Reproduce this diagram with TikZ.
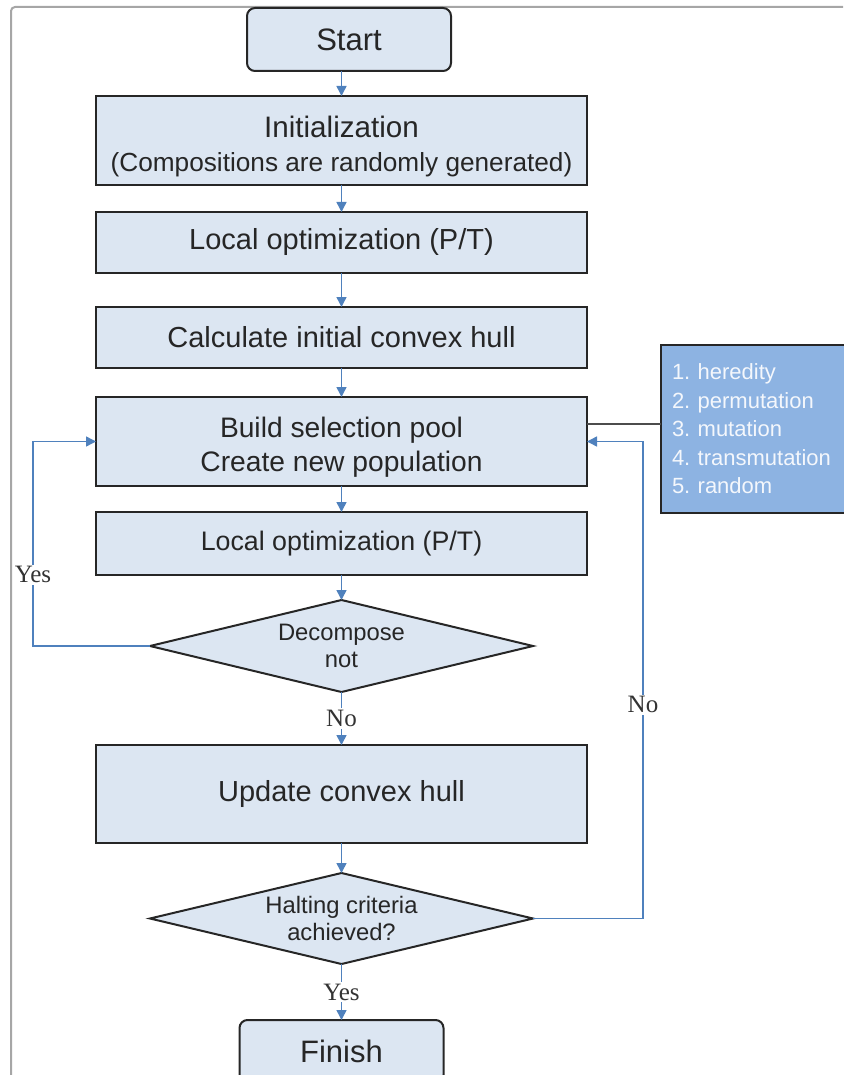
\documentclass[tikz,border=0pt]{standalone}
\usepackage{fontspec}
\setmainfont{Liberation Sans}
\newfontfamily\answerfont{Liberation Serif}
\usetikzlibrary{arrows.meta, positioning, shapes.geometric}
\definecolor{boxfill}{HTML}{DCE6F2}
\definecolor{flowblue}{HTML}{4F81BD}
\definecolor{opsfill}{HTML}{8DB3E2}
\definecolor{framegray}{HTML}{A6A6A6}
\tikzstyle{block} = [draw=black!85, line width=1pt, fill=boxfill, text=black!85, align=center, inner sep=2pt, outer sep=0pt]
\tikzstyle{process} = [block, rectangle, minimum width=245.5pt, font=\fontsize{14.5}{17}\selectfont]
\tikzstyle{terminal} = [block, rectangle, rounded corners=4pt, minimum width=102pt, minimum height=31.5pt, font=\fontsize{15.5}{18}\selectfont]
\tikzstyle{decision} = [block, diamond, aspect=4.16, inner sep=0pt, minimum width=191.5pt, minimum height=46pt, font=\fontsize{11.9}{13.5}\selectfont]
\tikzstyle{operators} = [draw=black!85, line width=1pt, fill=opsfill, text=white!90!opsfill, outer sep=0pt, text width=92pt, align=left, inner xsep=5.5pt, minimum height=84pt, font=\fontsize{11}{14.25}\selectfont\frenchspacing]
\tikzstyle{flow} = [-{Triangle[length=5pt, width=5pt]}, draw=flowblue, line width=0.75pt]
\tikzstyle{answer} = [fill=white, inner sep=1pt, text=black!80, font=\answerfont\fontsize{12.5}{14}\selectfont]
\tikzstyle{link} = [draw=black!70, line width=0.75pt]
\tikzstyle{frame} = [draw=framegray, line width=1pt, rounded corners=2pt]
\newcommand*{\topgap}[1]{\rule{0pt}{#1}}

\begin{document}
\begin{tikzpicture}[node distance=7mm]
    \useasboundingbox (0,0) rectangle (421.5pt,-537.5pt);
    \draw [frame] (421.5pt,-3.5pt) -| (5.5pt,-545pt);

    % Main column.
    \node (init) [process, minimum height=44.5pt, font=\fontsize{13.1}{17}\selectfont] at (170.75pt,-70.25pt)
        {\topgap{16.8pt}{\fontsize{14.8}{17}\selectfont Initialization}\\(Compositions are randomly generated)};
    \node (start) [terminal, above=12.5pt of init, xshift=3.75pt] {Start};
    \node (opt1) [process, minimum height=30.5pt, below=13.5pt of init] {Local optimization (P/T)};
    \node (hull1) [process, minimum height=30.5pt, below=17pt of opt1] {Calculate initial convex hull};
    \node (pool) [process, minimum height=44.5pt, below=14.5pt of hull1, font=\fontsize{14.1}{17}\selectfont]
        {\topgap{16.1pt}Build selection pool\\Create new population};
    \node (opt2) [process, minimum height=31.5pt, below=13pt of pool, font=\fontsize{13.4}{16}\selectfont] {Local optimization (P/T)};
    \node (dec) [decision, below=12.5pt of opt2] {Decompose\\not};
    \node (update) [process, minimum height=49pt, below=26.5pt of dec] {Update convex hull};
    \node (halt) [decision, minimum height=45.5pt, below=15pt of update] {Halting criteria\\achieved?};
    \node (finish) [terminal, below=28pt of halt] {Finish};

    % Variation operators.
    \node (ops) [operators, right=37pt of pool, yshift=6.25pt]
        {1. heredity\\2. permutation\\3. mutation\\4. transmutation\\5. random};
    \coordinate (tap) at ([yshift=2.5pt]ops.west);
    \draw [link] (tap) -- (tap -| pool.east);

    % Arrows.
    \draw [flow] (start.south -| init.north) -- (init.north);
    \foreach\i/\j in {init/opt1, opt1/hull1, hull1/pool, pool/opt2, opt2/dec, update/halt} {
        \draw [flow] (\i) -- (\j);
    }
    \draw [flow] (dec) -- node [answer] {No} (update);
    \draw [flow] (halt) -- node [answer] {Yes} (finish);

    % Loops back to the pool.
    \draw [flow] (dec.west) -- ++(-58.5pt,0) |- node [answer, pos=0.174] {Yes} (pool.west);
    \draw [flow] (halt.east) -- ++(55pt,0) |- node [answer, pos=0.224] {No} (pool.east);
\end{tikzpicture}
\end{document}
